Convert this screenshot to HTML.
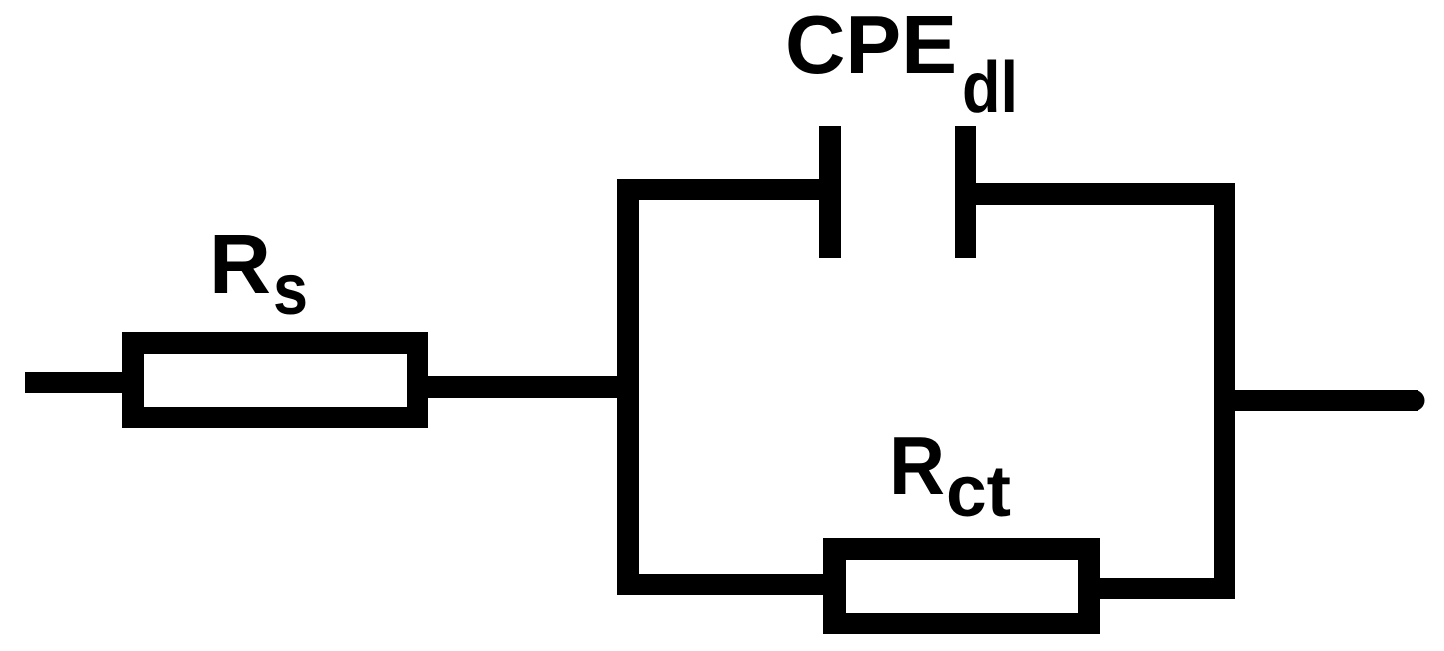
<!DOCTYPE html>
<html><head><meta charset="utf-8"><style>html,body{margin:0;padding:0;background:#fff;}svg{display:block}</style></head>
<body>
<svg width="1444" height="651" viewBox="0 0 1444 651" xmlns="http://www.w3.org/2000/svg">
<g fill="#000">
<rect x="25" y="372" width="100" height="21"/>
<path d="M122 332H428V428H122Z M144 354V407H407V354Z" fill-rule="evenodd"/>
<rect x="426" y="376" width="194" height="22"/>
<rect x="617" y="179" width="22" height="416" rx="4"/>
<rect x="617" y="179" width="204" height="21"/>
<rect x="819" y="126" width="22" height="132"/>
<rect x="955" y="126" width="21" height="132"/>
<rect x="974" y="183" width="261" height="22"/>
<rect x="1214" y="183" width="21" height="416"/>
<rect x="1233" y="390" width="185" height="21"/>
<circle cx="1414" cy="400.5" r="10.5"/>
<rect x="617" y="574" width="208" height="21"/>
<path d="M823 538H1100V634H823Z M846 560V613H1078V560Z" fill-rule="evenodd"/>
<rect x="1098" y="578" width="137" height="21"/>
</g>
<g font-family="Liberation Sans, Arial, sans-serif" font-weight="bold" fill="#000">
<text x="209" y="293" font-size="84" textLength="62" lengthAdjust="spacingAndGlyphs">R</text>
<text x="273" y="314" font-size="72" textLength="35" lengthAdjust="spacingAndGlyphs">s</text>
<text x="785" y="73" font-size="83" textLength="172" lengthAdjust="spacingAndGlyphs">CPE</text>
<text x="962" y="112" font-size="72" textLength="56" lengthAdjust="spacingAndGlyphs">dl</text>
<text x="889" y="494" font-size="83" textLength="56" lengthAdjust="spacingAndGlyphs">R</text>
<text x="946" y="516" font-size="72" textLength="65" lengthAdjust="spacingAndGlyphs">ct</text>
</g>
</svg>
</body></html>
